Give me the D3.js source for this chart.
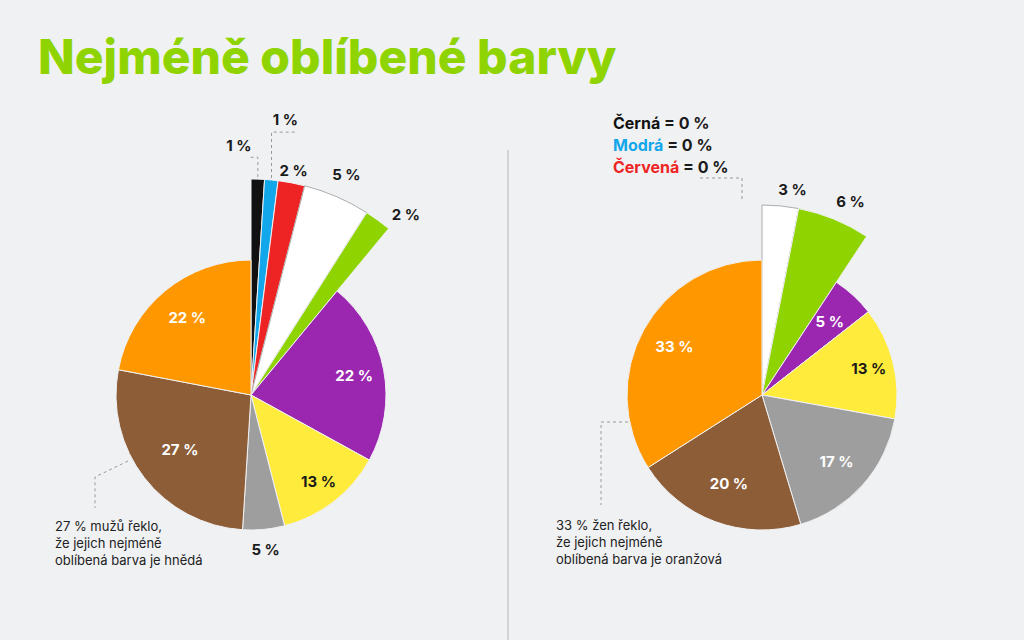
<!DOCTYPE html>
<html><head><meta charset="utf-8">
<script src="https://cdn.jsdelivr.net/npm/d3@7/dist/d3.min.js"></script>
<style>
body{margin:0;background:#f0f1f3;font-family:Inter,"Noto Sans",sans-serif}
</style></head><body>
<svg id="c" width="1024" height="640"></svg>
<script>
// Data
const colorNames = ['Černá','Modrá','Červená','Bílá','Zelená','Fialová','Žlutá','Šedá','Hnědá','Oranžová'];
const menValues   = [1, 1, 2, 5, 2, 22, 13, 5, 27, 22];
const womenValues = [0, 0, 0, 3, 6, 5, 13, 17, 20, 33];
const palette = ['#111111','#12a6ea','#ee2424','#ffffff','#8fd400','#9b27b0','#ffeb3b','#9e9e9e','#8d5d37','#ff9800'];

const svg = d3.select('#c');
svg.append('rect').attr('width',1024).attr('height',640).attr('fill','#f0f1f3');
svg.append('text').attr('x',38).attr('y',74).attr('font-size',48).attr('font-weight',800)
  .attr('fill','#8fd400').text('Nejméně oblíbené barvy');
svg.append('line').attr('x1',508).attr('x2',508).attr('y1',150).attr('y2',640)
  .attr('stroke','#b5b5b5').attr('stroke-width',1);

function drawPie(cx, cy, values, total, bigR, exploded, labelCfg) {
  const data = values.map((v,i) => ({v, i}));
  const p = d3.pie().sort(null).value(d => d.v).endAngle(2*Math.PI * d3.sum(values)/total)(data);
  // rescale so the pie fills the full circle
  const k = 2*Math.PI / p[p.length-1].endAngle;
  p.forEach(s => { s.startAngle *= k; s.endAngle *= k; });
  const g = svg.append('g').attr('transform', `translate(${cx},${cy})`);
  const R = 135;
  const arcFor = d => d3.arc().innerRadius(0).outerRadius(exploded.includes(d.data.i) ? bigR : R);
  g.selectAll('path').data(p.filter(d => d.data.v > 0)).join('path')
    .attr('d', d => arcFor(d)(d))
    .attr('fill', d => palette[d.data.i])
    .attr('stroke', d => d.data.i === 3 ? '#999' : '#f0f1f3')
    .attr('stroke-width', d => d.data.i === 3 ? 0.8 : 1);
  p.filter(d => d.data.v > 0).forEach(d => {
    const cfg = labelCfg[d.data.i] || {};
    const a = (d.startAngle + d.endAngle)/2 + (cfg.da || 0);
    const r = cfg.r || R*0.68;
    const x = Math.sin(a)*r, y = -Math.cos(a)*r;
    const inside = r < R && !exploded.includes(d.data.i);
    g.append('text').attr('x', x).attr('y', y).attr('dy','0.35em')
      .attr('text-anchor','middle').attr('font-size',15).attr('font-weight',700)
      .attr('fill', inside && [5,7,8,9].includes(d.data.i) ? '#fff' : '#1a1a1a')
      .text(d.data.v + ' %');
    if (cfg.leader) {
      const ea = (d.startAngle + d.endAngle)/2, er = (exploded.includes(d.data.i) ? bigR : R) + 2;
      const ex = Math.sin(ea)*er, ey = -Math.cos(ea)*er;
      g.append('polyline')
        .attr('points', `${ex},${ey} ${ex},${y+12} ${x+10},${y+12}`)
        .attr('fill','none').attr('stroke','#999').attr('stroke-dasharray','3,3');
    }
  });
  return g;
}

drawPie(251, 395, menValues, 100, 216, [0,1,2,3,4], {
  0:{r:250, da:-0.08, leader:true}, 1:{r:277, da:0.03, leader:true}, 2:{r:228}, 3:{r:240},
  4:{r:238, da:0.08}, 5:{r:105}, 7:{r:155}, 8:{r:90}, 9:{r:100}, 6:{r:110}
});
drawPie(762, 395, womenValues, 97, 190, [3,4], {
  3:{r:208, da:0.05}, 4:{r:213, da:0.04}, 5:{r:100}, 6:{r:110}, 7:{r:100}, 8:{r:95}, 9:{r:100}
});

// annotations
function note(points, x, y, lines) {
  svg.append('polyline').attr('points', points).attr('fill','none')
    .attr('stroke','#999').attr('stroke-dasharray','3,3');
  svg.append('text').attr('x',x).attr('y',y).attr('font-size',13).attr('fill','#222')
    .selectAll('tspan').data(lines).join('tspan').attr('x',x).attr('dy',(d,i)=>i?17:0).text(d=>d);
}
note('128,461 95,477 95,508', 55, 531, ['27 % mužů řeklo,','že jejich nejméně','oblíbená barva je hnědá']);
note('628,422 601,422 601,505', 556, 530, ['33 % žen řeklo,','že jejich nejméně','oblíbená barva je oranžová']);

const legend = ['Černá','Modrá','Červená'];
const legendColors = [palette[0], palette[1], palette[2]];
legend.forEach((t,i) => {
  const tx = svg.append('text').attr('x',613).attr('y',129 + i*22).attr('font-size',16).attr('font-weight',700);
  tx.append('tspan').attr('fill',legendColors[i]).text(t);
  tx.append('tspan').attr('fill','#1a1a1a').text(' = 0 %');
});
svg.append('polyline').attr('points','700,178 742,178 742,200').attr('fill','none')
  .attr('stroke','#999').attr('stroke-dasharray','3,3');
</script>
</body></html>
